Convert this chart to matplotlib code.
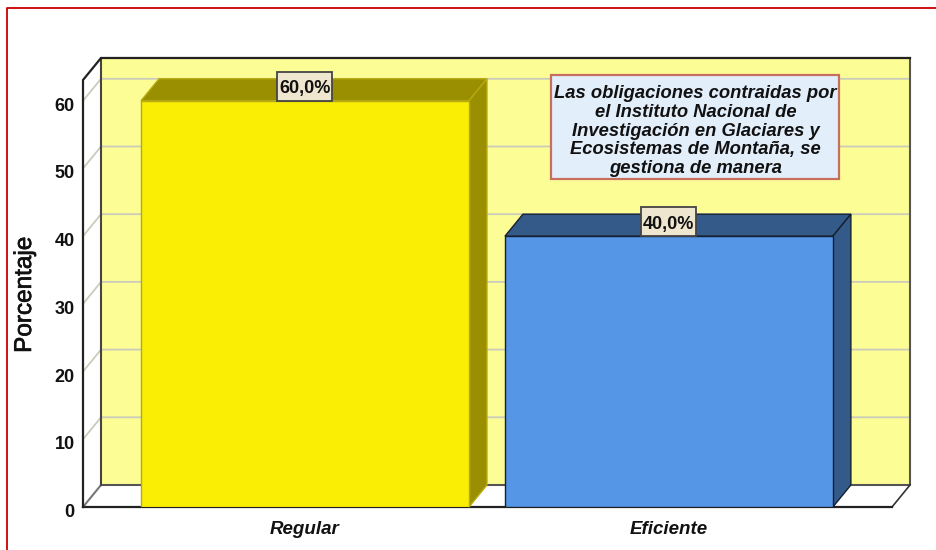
import matplotlib
matplotlib.use("Agg")
import matplotlib.pyplot as plt
import matplotlib.patheffects as pe
from matplotlib.lines import Line2D
from matplotlib.patches import Rectangle
from matplotlib.transforms import ScaledTranslation

categories = ["Regular", "Eficiente"]
values = [60.0, 40.0]
value_labels = ["60,0%", "40,0%"]
y_ticks = [0, 10, 20, 30, 40, 50, 60]
note = ("Las obligaciones contraidas por\nel Instituto Nacional de\n"
        "Investigación en Glaciares y\nEcosistemas de Montaña, se\n"
        "gestiona de manera")
front_colors = ["#FBEE05", "#5596E6"]
dark_colors = ["#9A8F00", "#345A8A"]
edge_colors = ["#B5AA10", "#14202E"]

plt.rcParams["font.family"] = ["Liberation Sans", "DejaVu Sans"]

fig = plt.figure(figsize=(9.36, 5.5), dpi=100)
ax = fig.add_axes([83 / 936, 43 / 550, 809 / 936, 427 / 550])
ax.set_xlim(-0.61, 1.613)
ax.set_ylim(0, 63.07)
for side in ax.spines.values():
    side.set_visible(False)
ax.patch.set_visible(False)

# depth of the fake 3d box, in data units
dx = 18 / 364
dy = 22 / 6.77
x0, x1 = ax.get_xlim()
y0, y1 = ax.get_ylim()
bar_width = 328 / 364
label_w = 55 / 364
label_h = 29 / 6.77

# walls
ax.fill([x0 + dx, x1 + dx, x1 + dx, x0 + dx], [y0 + dy, y0 + dy, y1 + dy, y1 + dy],
        color="#FDFD96", lw=0, clip_on=False, zorder=1)
for tick in y_ticks[1:]:
    ax.plot([x0, x0 + dx, x1 + dx], [tick, tick + dy, tick + dy], color="#CBCBBB",
            lw=1.3, clip_on=False, zorder=2)
ax.plot([x0 + dx, x1 + dx, x1 + dx], [y0 + dy, y0 + dy, y1 + dy], color="#555555", lw=1.5,
        clip_on=False, zorder=3)
ax.plot([x0, x0 + dx], [y0, y0 + dy], color="#777777", lw=1.5, clip_on=False, zorder=3)
ax.plot([x1, x1 + dx], [y0, y0 + dy], color="#333333", lw=1.2, clip_on=False, zorder=3)
ax.plot([x0 + dx, x0 + dx], [y0 + dy, y1 + dy], color="#444444", lw=1.5, clip_on=False, zorder=3)
ax.plot([x0, x0, x0 + dx, x1 + dx], [y0, y1, y1 + dy, y1 + dy], color="#222222", lw=1.6,
        clip_on=False, zorder=3)
ax.plot([x0, x1], [y0, y0], color="#222222", lw=1.6, clip_on=False, zorder=3)

# bars
positions = list(range(len(categories)))
ax.bar(positions, values, width=bar_width, color=front_colors, edgecolor=edge_colors,
       linewidth=1, zorder=5)
for pos, val, dark, edge in zip(positions, values, dark_colors, edge_colors):
    left = pos - bar_width / 2
    right = pos + bar_width / 2
    ax.fill([left, right, right + dx, left + dx], [val, val, val + dy, val + dy],
            facecolor=dark, edgecolor=edge, lw=1, clip_on=False, zorder=4)
    ax.fill([right, right + dx, right + dx, right], [0, dy, val + dy, val],
            facecolor=dark, edgecolor=edge, lw=1, clip_on=False, zorder=4)

for pos, val, label in zip(positions, values, value_labels):
    ax.add_patch(Rectangle((pos - label_w / 2, val), label_w, label_h, facecolor="#EFE6CF",
                           edgecolor="#444444", lw=1.3, clip_on=False, zorder=6))
    ax.text(pos, val + label_h * 0.42, label, ha="center", va="center", fontsize=13,
            fontweight="bold", color="#111111", zorder=7)

# axes text
ax.set_xticks(positions)
ax.set_xticklabels(categories, fontsize=13.5, fontweight="bold", fontstyle="italic", color="#111111")
ax.set_yticks(y_ticks)
ax.set_yticklabels([str(t) for t in y_ticks], fontsize=13, fontweight="bold", color="#111111")
ax.tick_params(axis="both", length=0)
ax.tick_params(axis="y", pad=6)
ax.tick_params(axis="x", pad=10)
shift = ScaledTranslation(0, -3.5 / 100, fig.dpi_scale_trans)
for lab in ax.get_yticklabels():
    lab.set_transform(lab.get_transform() + shift)
fig.text(25 / 936, 1 - 295 / 550, "Porcentaje", rotation=90, fontsize=17.5,
         ha="center", va="center", color="#111111",
         path_effects=[pe.withStroke(linewidth=0.5, foreground="#111111")])

# note box
fig.add_artist(Rectangle((551 / 936, 1 - 179 / 550), 288 / 936, 104 / 550,
                         transform=fig.transFigure, facecolor="#E3EEFB",
                         edgecolor="#C8705F", lw=1.6, zorder=8))
fig.text(695.5 / 936, 1 - 131 / 550, note, ha="center", va="center", fontsize=13.2,
         fontweight="bold", fontstyle="italic", color="#111111", linespacing=1.14, zorder=9)

# red frame, only top and left are inside the picture
fig.add_artist(Line2D([7.5 / 936, 7.5 / 936, 1], [0, 1 - 8 / 550, 1 - 8 / 550],
                      color="#C80000", lw=1.3))

fig.savefig("out.png", dpi=100)
